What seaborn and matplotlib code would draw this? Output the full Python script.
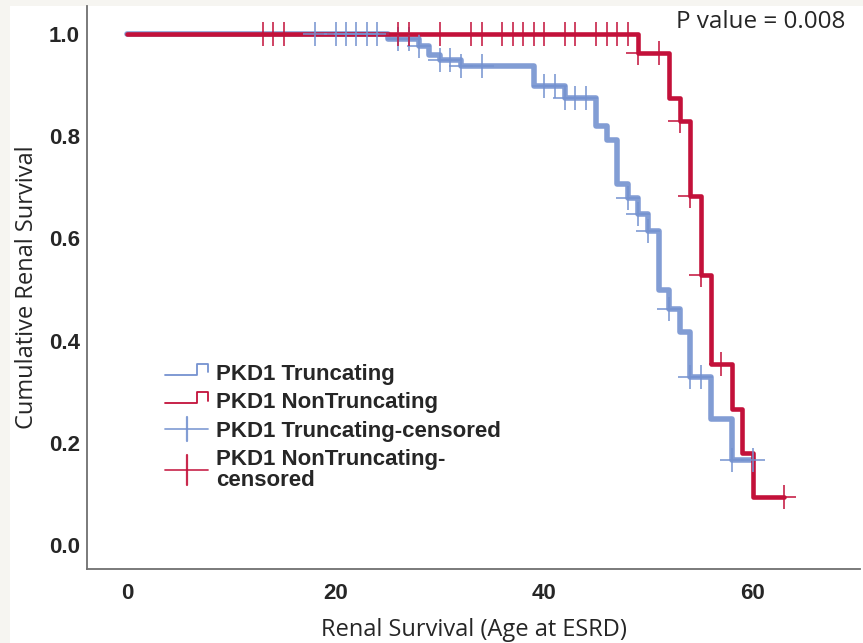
import numpy as np
import pandas as pd
import matplotlib
matplotlib.use("Agg")
import matplotlib.pyplot as plt
import seaborn as sns
from matplotlib.lines import Line2D
from matplotlib.legend_handler import HandlerBase
from matplotlib.patches import Rectangle

# ---------------- data ----------------
trunc_event_times = [25, 28, 29, 30, 32, 39, 42, 45, 46, 47, 48, 49, 50, 51, 52, 53, 54, 56, 58]
trunc_survival = [0.990, 0.976, 0.960, 0.950, 0.937, 0.898, 0.874, 0.821, 0.792, 0.707,
                  0.680, 0.648, 0.615, 0.499, 0.462, 0.417, 0.328, 0.246, 0.167]
trunc_censor_times = [18, 20, 21, 22, 23, 24, 26, 27, 28, 30, 31, 32, 34, 40, 41, 42, 43, 44,
                      48, 49, 50, 52, 54, 55, 58, 60]

nontrunc_event_times = [49, 52, 53, 54, 55, 56, 58, 59, 60]
nontrunc_survival = [0.963, 0.874, 0.829, 0.684, 0.528, 0.354, 0.267, 0.180, 0.094]
nontrunc_censor_times = [13, 14, 15, 26, 27, 30, 33, 34, 36, 37, 38, 39, 40, 42, 43, 45, 46,
                         47, 48, 49, 51, 53, 54, 55, 57, 63]

x_ticks = [0, 20, 40, 60]
y_ticks = [0.0, 0.2, 0.4, 0.6, 0.8, 1.0]
legend_labels = ["PKD1 Truncating", "PKD1 NonTruncating",
                 "PKD1 Truncating-censored", "PKD1 NonTruncating-\ncensored"]
x_label = "Renal Survival (Age at ESRD)"
y_label = "Cumulative Renal Survival"
p_text = "P value = 0.008"

BLUE = "#7592d0"
RED = "#c3113a"


def km_frames(event_times, survival, censor_times):
    ev = np.asarray(event_times, dtype=float)
    sv = np.asarray(survival, dtype=float)
    cs = np.asarray(censor_times, dtype=float)
    t = np.concatenate([[0.0], ev, [cs.max()]])
    s = np.concatenate([[1.0], sv, [sv[-1]]])
    line = pd.DataFrame({"time": t, "surv": s})
    idx = np.searchsorted(ev, cs, side="right")
    lev = np.concatenate([[1.0], sv])[idx]
    cens = pd.DataFrame({"time": cs, "surv": lev})
    return line, cens


tr_line, tr_cens = km_frames(trunc_event_times, trunc_survival, trunc_censor_times)
nt_line, nt_cens = km_frames(nontrunc_event_times, nontrunc_survival, nontrunc_censor_times)

sns.set_style("white")
plt.rcParams["font.family"] = ["Liberation Sans", "DejaVu Sans"]

W, H = 863, 643
fig = plt.figure(figsize=(W / 100, H / 100), dpi=100)
fig.patch.set_facecolor("white")
ax = fig.add_axes([87 / W, 1 - 569 / H, (860 - 87) / W, (569 - 6) / H])

sns.lineplot(data=tr_line, x="time", y="surv", drawstyle="steps-post", estimator=None,
             sort=False, color=BLUE, lw=4.0, alpha=0.9, ax=ax, zorder=2)
sns.lineplot(data=nt_line, x="time", y="surv", drawstyle="steps-post", estimator=None,
             sort=False, color=RED, lw=3.3, ax=ax, zorder=3)
sns.scatterplot(data=tr_cens, x="time", y="surv", marker="+", s=300, linewidth=1.3,
                color=BLUE, alpha=0.85, ax=ax, zorder=4)
sns.scatterplot(data=nt_cens, x="time", y="surv", marker="+", s=300, linewidth=1.3,
                color=RED, alpha=0.85, ax=ax, zorder=5)

ax.set_xlim(-3.85, 70.3)
ax.set_ylim(-0.047, 1.055)
ax.set_xticks(x_ticks)
ax.set_yticks(y_ticks)
ax.set_yticklabels([f"{v:.1f}" for v in y_ticks])
ax.tick_params(axis="both", length=0, labelsize=16)
ax.tick_params(axis="x", pad=10)
ax.tick_params(axis="y", pad=5)
for lab in ax.get_xticklabels() + ax.get_yticklabels():
    lab.set_fontweight("bold")
    lab.set_family(["Liberation Sans", "DejaVu Sans"])
for side in ["top", "right"]:
    ax.spines[side].set_visible(False)
for side in ["left", "bottom"]:
    ax.spines[side].set_color("#707070")
    ax.spines[side].set_linewidth(1.3)

ax.set_xlabel(x_label, fontsize=17, family=["Open Sans", "DejaVu Sans"], labelpad=10)
ax.set_ylabel(y_label, fontsize=17, family=["Open Sans", "DejaVu Sans"], labelpad=7)

fig.text(676 / W, 1 - 22 / H, p_text, fontsize=17.5, family=["Open Sans", "DejaVu Sans"],
         ha="left", va="center")


# ---------------- legend with step / censor glyphs ----------------
class StepHandle:
    def __init__(self, color):
        self.color = color


class CensorHandle:
    def __init__(self, color, tall=1.0):
        self.color = color
        self.tall = tall


class HandlerStep(HandlerBase):
    def create_artists(self, legend, orig, xd, yd, w, h, fontsize, trans):
        x0 = -xd
        lo = -yd + 0.35 * h
        hi = -yd + 1.05 * h
        xs = [x0, x0 + 0.73 * w, x0 + 0.73 * w, x0 + w, x0 + w]
        ys = [lo, lo, hi, hi, lo + 0.15 * h]
        ln = Line2D(xs, ys, color=orig.color, lw=1.3, transform=trans)
        return [ln]


class HandlerCensor(HandlerBase):
    def create_artists(self, legend, orig, xd, yd, w, h, fontsize, trans):
        x0 = -xd
        mid = -yd + 0.5 * h
        hl = Line2D([x0, x0 + w], [mid, mid], color=orig.color, lw=1.3, alpha=0.85,
                    transform=trans)
        half = 0.75 * h * orig.tall
        vl = Line2D([x0 + 0.5 * w, x0 + 0.5 * w], [mid - half, mid + half], color=orig.color,
                    lw=1.6, alpha=0.9, transform=trans)
        return [hl, vl]


handles = [StepHandle(BLUE), StepHandle(RED), CensorHandle(BLUE), CensorHandle(RED, 1.3)]
leg = fig.legend(handles, legend_labels, loc="upper left",
                 bbox_to_anchor=(165 / W, 1 - 364 / H), frameon=False,
                 handler_map={StepHandle: HandlerStep(), CensorHandle: HandlerCensor()},
                 prop={"family": ["Liberation Sans", "DejaVu Sans"], "weight": "bold", "size": 16},
                 handlelength=1.95, handletextpad=0.35, labelspacing=0.33,
                 borderpad=0, borderaxespad=0)
for t in leg.get_texts():
    t.set_linespacing(1.0)

# light border band at top / left of the original image
fig.patches.append(Rectangle((0, 0), 10 / W, 1, transform=fig.transFigure,
                             facecolor="#f6f5f1", edgecolor="none", zorder=-5))
fig.patches.append(Rectangle((0, 1 - 6 / H), 1, 6 / H, transform=fig.transFigure,
                             facecolor="#f6f5f1", edgecolor="none", zorder=-5))

fig.savefig("out.png", dpi=100)
